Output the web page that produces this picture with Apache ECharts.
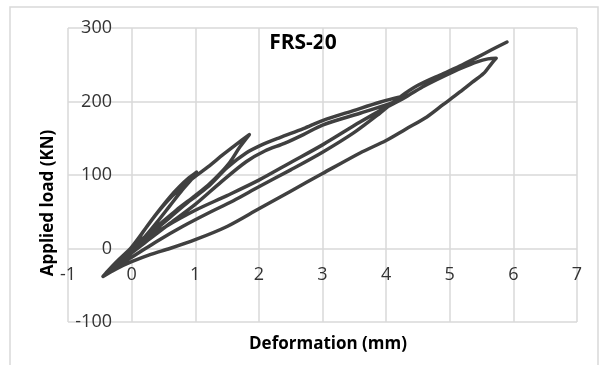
<!DOCTYPE html>
<html lang="en">
<head>
    <meta charset="UTF-8">
    <title>FRS-20</title>
    <style>
        body{
           margin: 0;
           background: #fff;
        }
        #main {
            width: 603px;
            height: 365px;
        }
    </style>
</head>
<body>
    <div id="main"></div>
    <script src="https://cdn.jsdelivr.net/npm/echarts@6/dist/echarts.min.js"></script>
    <script>
        // deformation (mm) / applied load (kN), one pair of arrays per cycle
        var cycle1Def  = [0, 0.1, 0.2, 0.3, 0.45, 0.6, 0.75, 0.9, 1.02, 0.95, 0.8, 0.6, 0.4, 0.2, 0, -0.2, -0.4]
        var cycle1Load = [0, 12, 25, 37, 54, 70, 84, 96, 104, 95, 80, 58, 36, 15, -5, -20, -33]

        var cycle2Def  = [-0.2, 0, 0.2, 0.4, 0.6, 0.8, 1.0, 1.2, 1.44, 1.65, 1.85, 1.7, 1.55, 1.39, 1.2, 1.0, 0.7, 0.4, 0.1, -0.15, -0.42]
        var cycle2Load = [-15, 2, 25, 48, 68, 84, 98, 111, 128, 142, 155, 138, 118, 102, 86, 72, 52, 30, 8, -14, -36]

        var cycle3Def  = [-0.2, 0, 0.3, 0.6, 0.9, 1.2, 1.5, 1.8, 2.07, 2.33, 2.7, 3.0, 3.5, 3.9, 4.2, 4.35, 4.25, 4.0, 3.59, 3.0, 2.5, 2.0, 1.5, 1.0, 0.5, 0.1, -0.2, -0.45]
        var cycle3Load = [-18, -2, 20, 42, 64, 84, 110, 130, 142, 151, 163, 174, 188, 199, 206, 208, 203, 192, 172, 141, 117, 93, 72, 52, 28, 6, -15, -38]

        var cycle4Def  = [-0.2, 0, 0.3, 0.6, 1.0, 1.4, 1.8, 2.1, 2.4, 2.7, 3.0, 3.59, 4.06, 4.3, 4.6, 4.9, 5.2, 5.43, 5.6, 5.73, 5.66, 5.53, 5.35, 5.16, 4.9, 4.64, 4.3, 4.0, 3.59, 3.0, 2.5, 2.0, 1.5, 1.0, 0.6, 0.3, 0, -0.25, -0.45]
        var cycle4Load = [-20, -6, 14, 34, 60, 90, 118, 133, 143, 155, 168, 184, 197, 206, 221, 234, 246, 254, 258, 259, 252, 238, 226, 213, 196, 179, 162, 147, 130, 102, 78, 54, 30, 12, 0, -8, -18, -28, -38]

        var cycle5Def  = [-0.2, 0, 0.4, 0.8, 1.2, 1.6, 2.0, 2.5, 3.0, 3.5, 3.9, 4.2, 4.5, 4.9, 5.2, 5.43, 5.65, 5.9]
        var cycle5Load = [-22, -12, 10, 30, 48, 65, 84, 107, 131, 158, 184, 205, 222, 238, 250, 260, 270, 281]

        var cycles = [
            [cycle1Def, cycle1Load],
            [cycle2Def, cycle2Load],
            [cycle3Def, cycle3Load],
            [cycle4Def, cycle4Load],
            [cycle5Def, cycle5Load]
        ]

        var path = []
        cycles.forEach(function(c) {
            for (var i = 0; i < c[0].length; i++) {
                path.push([c[0][i], c[1][i]])
            }
        })

        var font = '"Open Sans", sans-serif'
        var gridColor = '#d9d9d9'
        var myChart = echarts.init(document.getElementById('main'))

        var option = {
            backgroundColor: '#fff',
            animation: false,
            grid: {
                left: 68,
                right: 26,
                top: 28,
                bottom: 43
            },
            graphic: [
                {
                    type: 'rect',
                    shape: { x: 10, y: 7, width: 588, height: 380 },
                    style: { fill: 'none', stroke: gridColor, lineWidth: 1.5 }
                },
                {
                    type: 'text',
                    x: 303, y: 43,
                    style: {
                        text: 'FRS-20', fontFamily: font, fontSize: 21, fontWeight: 'bold',
                        fill: '#000', align: 'center', verticalAlign: 'middle'
                    }
                },
                {
                    type: 'text',
                    x: 328, y: 344,
                    style: {
                        text: 'Deformation (mm)', fontFamily: font, fontSize: 17, fontWeight: 'bold',
                        fill: '#000', align: 'center', verticalAlign: 'middle'
                    }
                },
                {
                    type: 'text',
                    x: 48, y: 203,
                    rotation: Math.PI / 2,
                    style: {
                        text: 'Applied load (KN)', fontFamily: font, fontSize: 17, fontWeight: 'bold',
                        fill: '#000', align: 'center', verticalAlign: 'middle'
                    }
                }
            ],
            xAxis: {
                type: 'value',
                min: -1,
                max: 7,
                interval: 1,
                // labels sit on the zero line, 100 kN = 73.5 px above the bottom edge
                offset: -73.5,
                axisLine: { show: false, onZero: false },
                axisTick: { show: false },
                axisLabel: { color: '#333', fontFamily: font, fontSize: 18, margin: 17 },
                splitLine: { show: true, lineStyle: { color: gridColor, width: 1.5 } }
            },
            yAxis: {
                type: 'value',
                min: -100,
                max: 300,
                interval: 100,
                axisLine: { show: false, onZero: false },
                axisTick: { show: false },
                axisLabel: { color: '#333', fontFamily: font, fontSize: 18, margin: -44 },
                splitLine: { show: true, lineStyle: { color: gridColor, width: 1.5 } }
            },
            series: [{
                type: 'line',
                data: path,
                showSymbol: false,
                smooth: 0.3,
                lineStyle: { color: '#404040', width: 3.5, join: 'round', cap: 'round' }
            }]
        }
        myChart.setOption(option)
    </script>
</body>
</html>
